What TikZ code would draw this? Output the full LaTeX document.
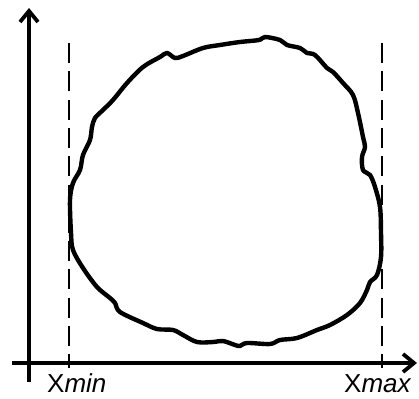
\documentclass[tikz,border=0pt]{standalone}
\usepackage{fontspec}
\setmainfont{Liberation Sans}
\usetikzlibrary{arrows.meta}
\begin{document}
\begin{tikzpicture}[x=1pt,y=-1pt,
  axis/.style={line width=3.8pt,-{Straight Barb[length=11pt,width=18pt,line width=3.8pt]}},
  bound/.style={line width=2.4pt,dash pattern=on 20pt off 8.3pt},
  blob/.style={line width=4.4pt,line join=round},
  lbl/.style={anchor=base west,inner sep=0pt,font=\fontsize{26}{28}\selectfont}]
\useasboundingbox (0,0) rectangle (419,398);
% bounds
\draw[bound] (69,43) -- (69,368);
\draw[bound] (382,43) -- (382,368);
% axes
\coordinate (o) at (29,382);
\coordinate (ytip) at (29,8);
\coordinate (xs) at (12,363);
\coordinate (xtip) at (417,363);
\draw[axis] (o) -- (ytip);
\draw[axis] (xs) -- (xtip);
% blob
\draw[blob] plot[smooth cycle,tension=0.55] coordinates {
(70,200) (73,183) (80,170) (83,155) (90,140) (92,127) (95,118) (103,110) (113,100)
(127,83) (143,67) (160,57) (167,53) (175,58) (183,56) (203,48) (220,45) (240,42)
(259,40) (265,37) (280,40) (287,45) (300,48) (307,53) (315,55) (327,68) (333,72)
(343,83) (353,95) (358,113) (363,137) (365,147) (362,157) (363,170) (370,175)
(375,187) (380,207) (381,233) (381,257) (377,275) (370,282) (367,290) (360,303)
(347,315) (330,325) (317,330) (297,338) (280,340) (270,344) (247,343) (240,346)
(235,345) (223,341) (213,342) (197,342) (183,335) (173,330) (157,329) (143,323)
(120,312) (115,303) (110,298) (97,287) (83,268) (73,250) (71,233)};
% labels
\node[lbl] (xmin) at (47,392) {X\textit{min}};
\node[lbl] (xmax) at (344,392) {X\textit{max}};
\end{tikzpicture}
\end{document}
